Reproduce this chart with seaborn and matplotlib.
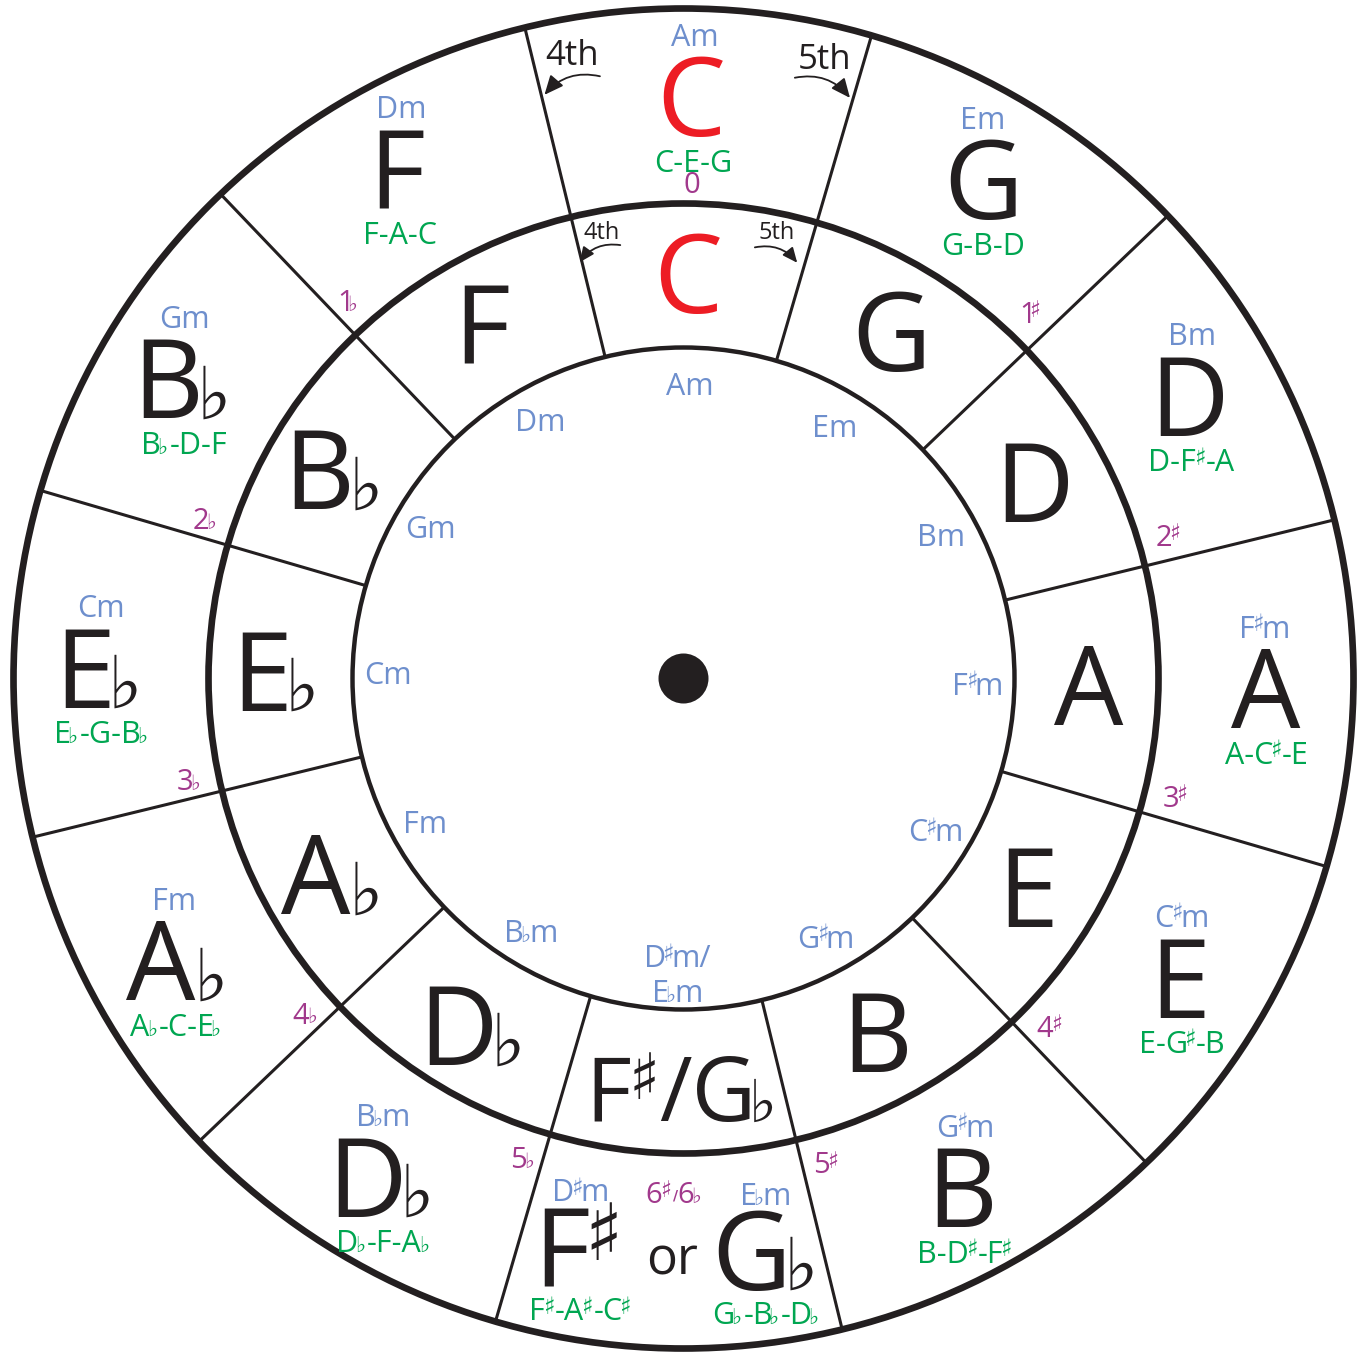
import numpy as np
import matplotlib.pyplot as plt
import seaborn as sns
from matplotlib.patches import Circle
from matplotlib.transforms import IdentityTransform

# Circle of fifths, clockwise from the top
majors = ['C', 'G', 'D', 'A', 'E', 'B', 'F♯/G♭', 'D♭', 'A♭', 'E♭', 'B♭', 'F']
minors = ['Am', 'Em', 'Bm', 'F♯m', 'C♯m', 'G♯m', 'D♯m/\nE♭m', 'B♭m', 'Fm', 'Cm', 'Gm', 'Dm']
triads = ['C-E-G', 'G-B-D', 'D-F♯-A', 'A-C♯-E', 'E-G♯-B', 'B-D♯-F♯', '',
          'D♭-F-A♭', 'A♭-C-E♭', 'E♭-G-B♭', 'B♭-D-F', 'F-A-C']
key_sigs = ['0', '1♯', '2♯', '3♯', '4♯', '5♯', '6♯/6♭', '5♭', '4♭', '3♭', '2♭', '1♭']

# bottom slot of the outer ring holds both spellings
enh_keys = ['F♯', 'G♭']
enh_minors = ['D♯m', 'E♭m']
enh_triads = ['F♯-A♯-C♯', 'G♭-B♭-D♭']

INK = '#231f20'
RED = '#ed1c24'
BLUE = '#6e8fcd'
GREEN = '#00a651'
MAGENTA = '#a1398c'
FONT = 'Open Sans'
ACC_FONT = 'DejaVu Sans'

sns.set_theme(style='white')
plt.rcParams['font.family'] = [FONT, 'DejaVu Sans']

# scratch figure used to measure where glyph ink really lands
_probe = plt.figure(figsize=(4, 4), dpi=100, facecolor='white')
_boxes = {}


def ink_box(txt, fontsize, family, weight='normal'):
    key = (txt, round(fontsize, 2), family, weight)
    if key not in _boxes:
        _probe.clf()
        _probe.text(100, 200, txt, fontsize=fontsize, family=[family, 'DejaVu Sans'],
                    weight=weight, color='black', ha='left', va='baseline',
                    transform=IdentityTransform())
        _probe.canvas.draw()
        buf = np.asarray(_probe.canvas.buffer_rgba())
        dark = buf[:, :, 0] < 140
        rows = np.where(dark.any(axis=1))[0]
        cols = np.where(dark.any(axis=0))[0]
        h = buf.shape[0]
        _boxes[key] = (cols.min() - 100, cols.max() + 1 - 100,
                       (h - rows.max() - 1) - 200, (h - rows.min()) - 200)
    return _boxes[key]


fig = plt.figure(figsize=(13.69, 13.57), dpi=100)
ax = fig.add_axes([0, 0, 1, 1])
ax.set_xlim(-683.5, 685.5)
ax.set_ylim(-678.5, 678.5)
ax.axis('off')

R_IN, R_MID, R_OUT = 331, 475, 670
LINE_ROT = -1.3
TEXT_ROT = -1.0


def polar(r, deg):
    a = np.radians(deg)
    return r * np.cos(a), r * np.sin(a)


def rich(x, y, s, size, color, small='♯♭'):
    # label with small accidentals, centred on the cap height
    cap = ink_box('H', size, FONT)[3]
    little = size < 30
    acc_w = 'bold' if little else 'normal'
    lines = s.split('\n')
    lead = 1.55 * cap
    for k, line in enumerate(lines):
        yy = y + (len(lines) - 1) * lead / 2 - k * lead - cap / 2
        runs = []
        for ch in line:
            if ch in small:
                runs.append([ch, 'acc'])
            elif runs and runs[-1][1] == 'txt':
                runs[-1][0] += ch
            else:
                runs.append([ch, 'txt'])
        items, cur = [], 0
        for n, (txt, kind) in enumerate(runs):
            if kind == 'acc':
                if txt == '♯':
                    target, after = (0.80 if little else 0.74) * cap, 0.10 * cap
                elif txt == '♭':
                    target, after = (0.72 if little else 0.68) * cap, 0.18 * cap
                else:
                    target, after = 0.55 * cap, 0.08 * cap
                b0 = ink_box(txt, 40, ACC_FONT, acc_w)
                fs = round(40 * target / (b0[3] - b0[2]), 1)
                b = ink_box(txt, fs, ACC_FONT, acc_w)
                base = 1.08 * cap - b[3] if txt == '♯' else -b[2]
                if n > 0:
                    cur += 0.06 * cap
                t = ax.text(0, 0, txt, fontsize=fs, color=color, family=[ACC_FONT],
                            weight=acc_w, ha='left', va='baseline')
                items.append((t, cur - b[0], base))
                cur += b[1] - b[0]
                if n < len(runs) - 1:
                    cur += after
            else:
                b = ink_box(txt, size, FONT)
                t = ax.text(0, 0, txt, fontsize=size, color=color,
                            family=[FONT, 'DejaVu Sans'], ha='left', va='baseline')
                items.append((t, cur - b[0], 0))
                cur += b[1] - b[0]
        for t, dx, base in items:
            t.set_position((x - cur / 2 + dx, yy + base))


# rings
ax.add_patch(Circle((0, 0), R_OUT, fill=False, lw=4.8, color=INK))
ax.add_patch(Circle((0, 0), R_MID, fill=False, lw=4.8, color=INK))
ax.add_patch(Circle((0, 0), R_IN, fill=False, lw=3.2, color=INK))

# spokes between keys
for i in range(12):
    a = 105 - 30 * i + LINE_ROT
    x0, y0 = polar(R_IN, a)
    x1, y1 = polar(R_OUT, a)
    ax.plot([x0, x1], [y0, y1], color=INK, lw=2.2, solid_capstyle='butt')

sns.scatterplot(x=[0], y=[0], s=1296, color=INK, edgecolor='none', ax=ax, legend=False)

BIG, MIN, TRI, SIG = 79, 22, 22, 21

for i in range(12):
    a = 90 - 30 * i + TEXT_ROT
    col = RED if i == 0 else INK

    # middle ring: major keys
    if i == 6:
        rich(*polar(411, -90), majors[i], 64, col)
    else:
        rich(*polar(405, a), majors[i], BIG, col)

    # inner ring: relative minors
    rich(*polar(295, a), minors[i], MIN, BLUE)

    # outer ring: key, relative minor and triad
    if i != 6:
        x, y = polar(582, a)
        rich(x, y, majors[i], BIG, col)
        rich(x, y + 62, minors[i], MIN, BLUE)
        rich(x, y - 64, triads[i], TRI, GREEN)

    # number of sharps / flats
    side = 0
    if '♯' in key_sigs[i] and '♭' not in key_sigs[i]:
        side = -1
    elif '♭' in key_sigs[i] and '♯' not in key_sigs[i]:
        side = 1
    r_sig = 505 - 9 * np.sin(np.radians(a)) * (side == 0)
    rich(*polar(r_sig, a + side * 12.5), key_sigs[i], SIG, MAGENTA, small='♯♭/')

# the shared F#/Gb slot at the bottom
for j, off in enumerate([-9.2, 9.2]):
    x, y = polar(578, -91 + off)
    rich(x, y, enh_keys[j], BIG, INK)
    rich(x, y + 57, enh_minors[j], MIN, BLUE)
    rich(x, y - 62, enh_triads[j], TRI, GREEN)
rich(*polar(578, -91.0), 'or', 37, INK)

# 4th / 5th hints
rich(*polar(636, 100.1), '4th', 25, INK)
rich(*polar(638, 77.3), '5th', 25, INK)
rich(*polar(456, 100.5), '4th', 17, INK)
rich(*polar(457, 78.3), '5th', 17, INK)

arrows = [((608, 97.9), (600, 103.4), 0.3, 13),
          ((611, 79.5), (604, 74.0), -0.3, 13),
          ((438, 98.3), (429, 104.0), 0.3, 10),
          ((437, 80.6), (431, 74.7), -0.3, 10)]
for start, end, rad, ms in arrows:
    ax.annotate('', xy=polar(*end), xytext=polar(*start),
                arrowprops=dict(arrowstyle='-|>,head_length=0.9,head_width=0.4',
                                connectionstyle=f'arc3,rad={rad}', lw=1.3,
                                color=INK, shrinkA=0, shrinkB=0, mutation_scale=ms))

plt.close(_probe)
fig.savefig('out.png', dpi=100, facecolor='white')
